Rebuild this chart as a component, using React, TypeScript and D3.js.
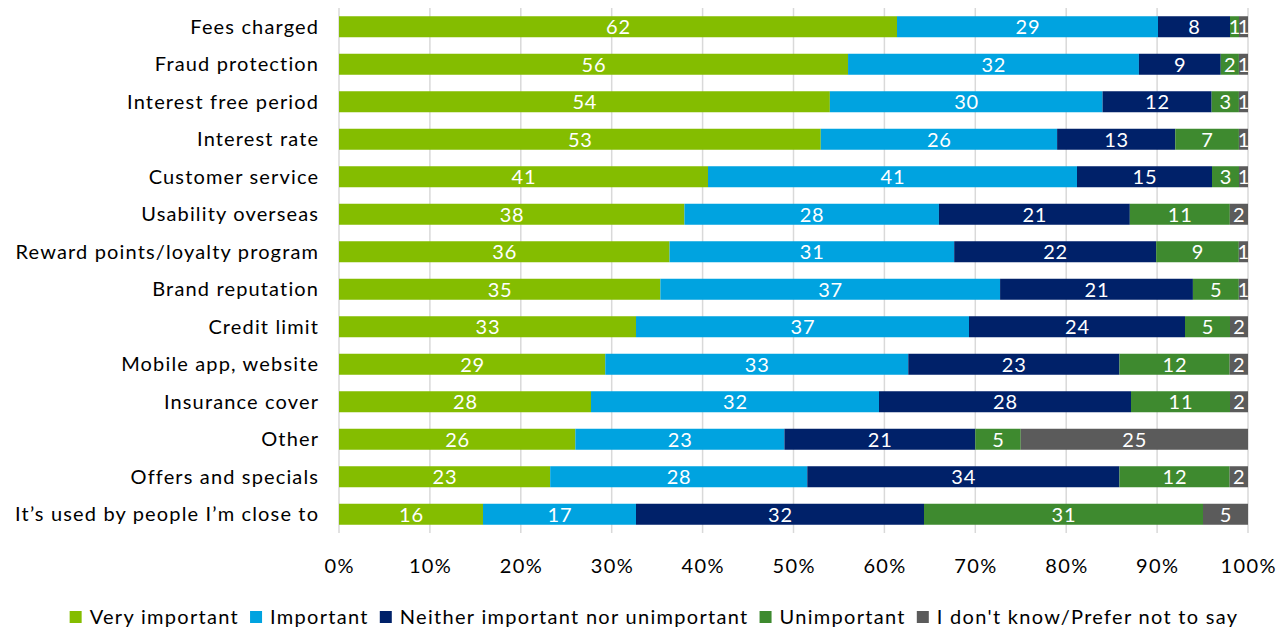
import React, { useEffect, useRef } from "react";
import * as d3 from "d3";

const categories = [
  "Fees charged",
  "Fraud protection",
  "Interest free period",
  "Interest rate",
  "Customer service",
  "Usability overseas",
  "Reward points/loyalty program",
  "Brand reputation",
  "Credit limit",
  "Mobile app, website",
  "Insurance cover",
  "Other",
  "Offers and specials",
  "It\u2019s used by people I\u2019m close to",
];

const seriesNames = [
  "Very important",
  "Important",
  "Neither important nor unimportant",
  "Unimportant",
  "I don't know/Prefer not to say",
];

const veryImportant = [62, 56, 54, 53, 41, 38, 36, 35, 33, 29, 28, 26, 23, 16];
const important = [29, 32, 30, 26, 41, 28, 31, 37, 37, 33, 32, 23, 28, 17];
const neither = [8, 9, 12, 13, 15, 21, 22, 21, 24, 23, 28, 21, 34, 32];
const unimportant = [1, 2, 3, 7, 3, 11, 9, 5, 5, 12, 11, 5, 12, 31];
const dontKnow = [1, 1, 1, 1, 1, 2, 1, 1, 2, 2, 2, 25, 2, 5];

const colors = ["#84bd00", "#00a3e0", "#002169", "#3e8a2f", "#5b5b5b"];

const xTicks = [0, 0.1, 0.2, 0.3, 0.4, 0.5, 0.6, 0.7, 0.8, 0.9, 1];

const FONT = "Lato, 'Open Sans', sans-serif";
const LS = 1.15;

export default function App() {
  const ref = useRef<SVGSVGElement>(null);

  useEffect(() => {
    const svg = d3.select(ref.current);
    svg.selectAll("*").remove();
    const W = 1282;
    const left = 339;
    const right = 1248;
    const top = 8;
    const bottom = 533;

    const seriesValues = [veryImportant, important, neither, unimportant, dontKnow];
    const rows = categories.map((c, i) => {
      const r: any = { category: c };
      seriesNames.forEach((s, j) => (r[s] = seriesValues[j][i]));
      return r;
    });

    const stack = d3.stack<any>().keys(seriesNames).offset(d3.stackOffsetExpand);
    const stacked = stack(rows);

    const x = d3.scaleLinear().domain([0, 1]).range([left, right]);
    const y = d3
      .scaleBand<string>()
      .domain(categories)
      .range([top, bottom])
      .paddingInner(0.44)
      .paddingOuter(0.22);

    // gridlines
    svg
      .append("g")
      .selectAll("line")
      .data(xTicks)
      .join("line")
      .attr("x1", (d) => x(d))
      .attr("x2", (d) => x(d))
      .attr("y1", top)
      .attr("y2", bottom)
      .attr("stroke", "#d9d9d9")
      .attr("stroke-width", 1.5);

    // bars
    const g = svg.append("g");
    stacked.forEach((layer, j) => {
      g.append("g")
        .attr("fill", colors[j])
        .selectAll("rect")
        .data(layer)
        .join("rect")
        .attr("x", (d) => x(d[0]))
        .attr("width", (d) => x(d[1]) - x(d[0]))
        .attr("y", (d: any) => y(d.data.category)!)
        .attr("height", y.bandwidth());
    });

    // data labels
    stacked.forEach((layer, j) => {
      g.append("g")
        .selectAll("text")
        .data(layer)
        .join("text")
        .attr("x", (d) => (x(d[0]) + x(d[1])) / 2 + 0.4)
        .attr("y", (d: any) => y(d.data.category)! + y.bandwidth() / 2)
        .attr("dy", "0.37em")
        .attr("text-anchor", "middle")
        .attr("fill", "#ffffff")
        .attr("font-family", FONT)
        .attr("font-size", 20)
        .attr("letter-spacing", 0.8)
        .text((d: any) => d.data[seriesNames[j]]);
    });

    // category labels
    svg
      .append("g")
      .selectAll("text")
      .data(categories)
      .join("text")
      .attr("x", left - 21 + LS)
      .attr("y", (d) => y(d)! + y.bandwidth() / 2)
      .attr("dy", "0.36em")
      .attr("text-anchor", "end")
      .attr("fill", "#000000")
      .attr("font-family", FONT)
      .attr("font-size", 20)
      .attr("letter-spacing", LS)
      .text((d) => d);

    // x axis tick labels
    svg
      .append("g")
      .selectAll("text")
      .data(xTicks)
      .join("text")
      .attr("x", (d) => x(d) + 0.7)
      .attr("y", 566)
      .attr("dy", "0.36em")
      .attr("text-anchor", "middle")
      .attr("fill", "#000000")
      .attr("font-family", FONT)
      .attr("font-size", 20)
      .attr("letter-spacing", 1.4)
      .text((d) => d3.format(".0%")(d));

    // legend
    const lg = svg.append("g");
    const sq = 12;
    const gapSq = 8;
    const gapItem = 11;
    const items = seriesNames.map((name, j) => {
      const it = lg.append("g");
      it.append("rect").attr("width", sq).attr("height", sq).attr("y", -sq / 2).attr("fill", colors[j]);
      const t = it
        .append("text")
        .attr("x", sq + gapSq)
        .attr("dy", "0.36em")
        .attr("fill", "#000000")
        .attr("font-family", FONT)
        .attr("font-size", 20)
        .attr("letter-spacing", 1.3)
        .text(name);
      const w = (t.node() as SVGTextElement).getComputedTextLength();
      return { it, w: sq + gapSq + w };
    });
    const total = d3.sum(items, (d) => d.w) + gapItem * (items.length - 1);
    let cx = W / 2 - total / 2 + 13;
    items.forEach((d) => {
      d.it.attr("transform", `translate(${cx},617)`);
      cx += d.w + gapItem;
    });
  }, []);

  return (
    <svg
      ref={ref}
      width={1282}
      height={630}
      style={{ position: "fixed", left: 0, top: 0, background: "#fff" }}
    />
  );
}
